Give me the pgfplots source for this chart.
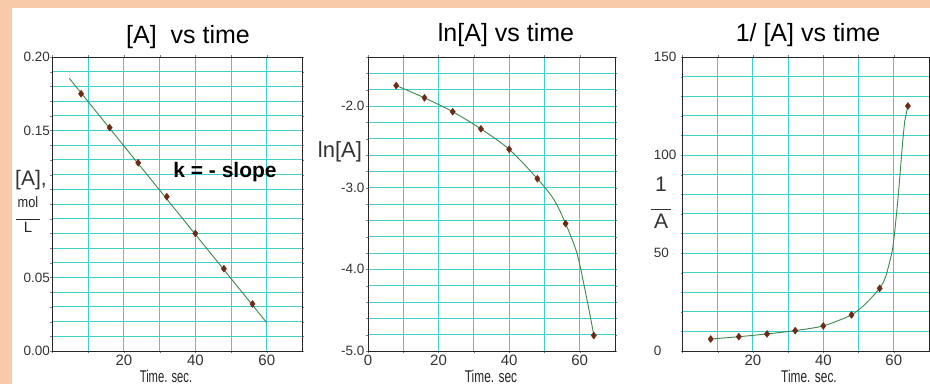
\documentclass[border=0pt]{standalone}
\usepackage{fontspec}
\setmainfont{Liberation Sans}
\usepackage{graphicx}
\usepackage{pgfplots}
\pgfplotsset{compat=1.18}
\definecolor{peach}{HTML}{F9CAAA}
\definecolor{gridc}{HTML}{3ECFCF}
\definecolor{curvec}{HTML}{3A8A4A}
\definecolor{markc}{HTML}{6E2A14}
\pgfplotsset{chem/.style={
  scale only axis, anchor=south west,
  xmin=0, xmax=70,
  axis line style={black!85, line width=0.8pt},
  grid=major,
  major grid style={gridc, line width=1pt},
  tick align=outside, major tick length=2pt,
  ticklabel style={text=black!80, inner sep=1.5pt},
  xticklabel style={font=\fontsize{15}{15}\selectfont},
  yticklabel style={font=\fontsize{13.5}{13.5}\selectfont},
  /pgf/number format/assume math mode=true,
  xtick={0,10,20,30,40,50,60},
  height=294pt,
  clip=false,
}}
\begin{document}
\begin{tikzpicture}
\path[use as bounding box] (0pt,0pt) rectangle (930pt,384pt);
\fill[peach] (0pt,0pt) rectangle (930pt,384pt);
\fill[white] (12pt,0pt) rectangle (930pt,376pt);

% Panel 1: [A] vs time
\begin{axis}[chem, at={(52.5pt,33pt)}, width=250pt,
  ymin=0, ymax=0.2,
  xticklabels={,,20,,40,,60},
  ytick={0,0.01,0.02,0.03,0.04,0.05,0.06,0.07,0.08,0.09,0.10,0.11,0.12,0.13,0.14,0.15,0.16,0.17,0.18,0.19,0.20},
  yticklabels={0.00,,,,,0.05,,,,,,,,,,0.15,,,,,0.20},
  yticklabel style={xshift=1pt}]
\addplot[curvec, line width=0.9pt] coordinates {(4.7,0.1855) (60,0.0192)};
\addplot[only marks, mark=diamond*, mark size=3.5pt, color=markc] coordinates {
  (8,0.175) (16,0.152) (24,0.128) (32,0.105) (40,0.080) (48,0.056) (56,0.032)};
\draw[black!85, line width=0.8pt] (rel axis cs:0,0) rectangle (rel axis cs:1,1);
\end{axis}

% Panel 2: ln[A] vs time
\begin{axis}[chem, at={(368pt,33pt)}, width=247pt,
  ymin=-5, ymax=-1.4,
  xticklabels={0,,20,,40,,60},
  ytick={-5,-4.8,-4.6,-4.4,-4.2,-4,-3.8,-3.6,-3.4,-3.2,-3,-2.8,-2.6,-2.4,-2.2,-2,-1.8,-1.6,-1.4},
  yticklabels={-5.0,,,,,-4.0,,,,,-3.0,,,,,-2.0,,,}]
\addplot[curvec, line width=0.9pt, smooth, tension=0.5] coordinates {
  (8,-1.75) (16,-1.90) (24,-2.07) (32,-2.28) (40,-2.53) (48,-2.89)
  (52.6,-3.14) (56,-3.44) (59.2,-3.80) (61.5,-4.25) (63.1,-4.60) (64,-4.81)};
\addplot[only marks, mark=diamond*, mark size=3.5pt, color=markc] coordinates {
  (8,-1.75) (16,-1.90) (24,-2.07) (32,-2.28) (40,-2.53) (48,-2.89) (56,-3.44) (64,-4.81)};
\draw[black!85, line width=0.8pt] (rel axis cs:0,0) rectangle (rel axis cs:1,1);
\end{axis}

% Panel 3: 1/[A] vs time
\begin{axis}[chem, at={(682.5pt,33pt)}, width=246.5pt,
  ymin=0, ymax=150,
  xticklabels={,,20,,40,,60},
  ytick={0,10,20,30,40,50,60,70,80,90,100,110,120,130,140,150},
  yticklabels={0,,,,,50,,,,,100,,,,,150},
  yticklabel style={text width=22pt, align=left, anchor=east, xshift=-3pt}]
\addplot[curvec, line width=0.9pt, smooth, tension=0.4] coordinates {
  (8,6.1) (16,7.3) (24,8.7) (32,10.4) (40,12.8) (48,18.4) (52.1,24.3) (56,32)
  (57.7,38) (59.6,51.5) (60.5,65) (61.4,82) (62.4,104) (63.1,117) (64,125)};
\addplot[only marks, mark=diamond*, mark size=3.5pt, color=markc] coordinates {
  (8,6.1) (16,7.3) (24,8.7) (32,10.4) (40,12.8) (48,18.4) (56,32) (64,125)};
\draw[black!85, line width=0.8pt] (rel axis cs:0,0) rectangle (rel axis cs:1,1);
\end{axis}

% Titles
\node[font=\fontsize{25}{25}\selectfont] at (188pt,347pt) {[A]\ \ vs time};
\node[font=\fontsize{25}{25}\selectfont] at (506pt,349pt) {ln[A] vs time};
\node[font=\fontsize{25}{25}\selectfont] at (808pt,349pt) {1/ [A] vs time};

% x labels
\node[font=\fontsize{17}{17}\selectfont, text=black!85, inner sep=0pt] at (166pt,8pt) {\scalebox{0.66}[1]{Time. sec.}};
\node[font=\fontsize{17}{17}\selectfont, text=black!85, inner sep=0pt] at (491pt,8pt) {\scalebox{0.7}[1]{Time. sec}};
\node[font=\fontsize{17}{17}\selectfont, text=black!85, inner sep=0pt] at (809pt,8pt) {\scalebox{0.7}[1]{Time. sec.}};

% y labels
\node[font=\fontsize{21}{21}\selectfont, text=black!80] at (31pt,204pt) {[A],};
\node[font=\fontsize{15}{15}\selectfont, text=black!85, align=center, inner sep=0pt] at (28pt,169pt)
  {\scalebox{0.85}[1]{mol}\\[-3pt]\rule{24pt}{0.8pt}\\[-2pt]L};
\node[font=\fontsize{22}{22}\selectfont, text=black!80] at (340pt,232pt) {ln[A]};
\node[font=\fontsize{21}{21}\selectfont, text=black!80, align=center, inner sep=0pt] at (661pt,181pt)
  {1\\[-3pt]\rule{20pt}{0.8pt}\\[-2pt]A};

% annotation
\node[font=\fontsize{21}{21}\selectfont\bfseries] at (225pt,212pt) {k = - slope};
\end{tikzpicture}
\end{document}
